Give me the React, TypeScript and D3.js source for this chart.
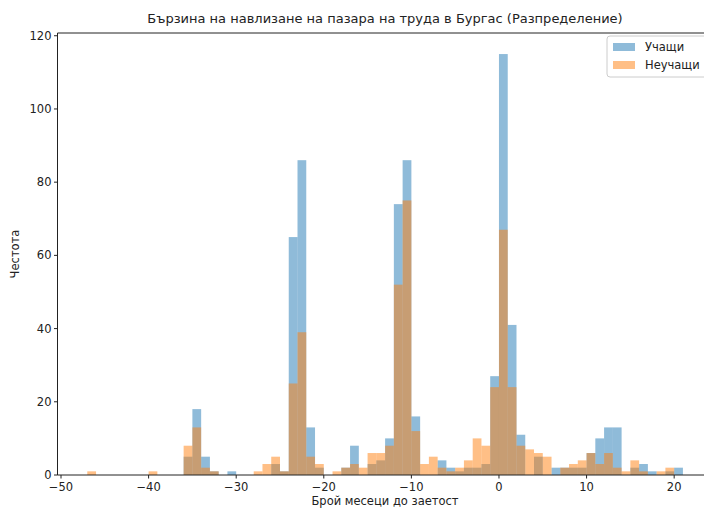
import React from "react";
import * as d3 from "d3";

const binStarts: number[] = [
  -47, -46, -45, -44, -43, -42, -41, -40, -39, -38,
  -37, -36, -35, -34, -33, -32, -31, -30, -29, -28,
  -27, -26, -25, -24, -23, -22, -21, -20, -19, -18,
  -17, -16, -15, -14, -13, -12, -11, -10, -9, -8,
  -7, -6, -5, -4, -3, -2, -1, 0, 1, 2,
  3, 4, 5, 6, 7, 8, 9, 10, 11, 12,
  13, 14, 15, 16, 17, 18, 19, 20,
];
const binWidth = 1;

const learners: number[] = [
  0, 0, 0, 0, 0, 0, 0, 0, 0, 0,
  0, 5, 18, 5, 1, 0, 1, 0, 0, 0,
  0, 3, 1, 65, 86, 13, 2, 0, 0, 2,
  8, 0, 3, 4, 10, 74, 86, 16, 0, 0,
  4, 2, 1, 2, 2, 3, 27, 115, 41, 11,
  0, 5, 0, 2, 2, 2, 2, 6, 10, 13,
  13, 0, 2, 3, 1, 0, 1, 2,
];
const nonLearners: number[] = [
  1, 0, 0, 0, 0, 0, 0, 1, 0, 0,
  0, 8, 13, 2, 1, 0, 0, 0, 0, 1,
  3, 5, 1, 25, 39, 5, 3, 0, 1, 2,
  3, 2, 6, 6, 8, 52, 75, 12, 3, 5,
  2, 1, 2, 4, 10, 8, 24, 67, 24, 8,
  7, 6, 5, 0, 2, 3, 4, 6, 3, 6,
  2, 1, 4, 1, 0, 1, 2, 0,
];

const seriesNames = ["Учащи", "Неучащи"];
const seriesColors = ["rgba(31,119,180,0.5)", "rgba(255,127,14,0.5)"];
const xTicks = [-50, -40, -30, -20, -10, 0, 10, 20];
const yTicks = [0, 20, 40, 60, 80, 100, 120];

const title = "Бързина на навлизане на пазара на труда в Бургас (Разпределение)";
const xLabel = "Брой месеци до заетост";
const yLabel = "Честота";

const W = 704;
const H = 509;
const FONT = "DejaVu Sans, sans-serif";

export default function App() {
  const x = d3.scaleLinear().domain([-50.4, 24.4]).range([57.5, 712.7]);
  const y = d3.scaleLinear().domain([0, 120.75]).range([475, 33]);
  const series = [learners, nonLearners];
  const axisColor = "#222";

  return (
    <svg
      width={W}
      height={H}
      style={{ position: "absolute", left: 0, top: 0, background: "#fff" }}
      fontFamily={FONT}
    >
      {series.map((vals, si) => (
        <g key={si}>
          {vals.map((v, i) =>
            v > 0 ? (
              <rect
                key={i}
                x={x(binStarts[i])}
                y={y(v)}
                width={x(binStarts[i] + binWidth) - x(binStarts[i])}
                height={y(0) - y(v)}
                fill={seriesColors[si]}
              />
            ) : null
          )}
        </g>
      ))}
      {/* spines */}
      <line x1={x.range()[0]} x2={x.range()[0]} y1={y(0)} y2={y.range()[1]} stroke={axisColor} strokeWidth={1} />
      <line x1={x.range()[0]} x2={W} y1={y(0)} y2={y(0)} stroke={axisColor} strokeWidth={1} />
      <line x1={x.range()[0]} x2={W} y1={y.range()[1]} y2={y.range()[1]} stroke={axisColor} strokeWidth={1} />
      {/* x ticks */}
      {xTicks.map((t) => (
        <g key={t} transform={`translate(${x(t)},${y(0)})`}>
          <line y1={0} y2={3.5} stroke={axisColor} />
          <text y={16} textAnchor="middle" fontSize={11.5} fill="#222">
            {t < 0 ? `\u2212${Math.abs(t)}` : t}
          </text>
        </g>
      ))}
      {/* y ticks */}
      {yTicks.map((t) => (
        <g key={t} transform={`translate(${x.range()[0]},${y(t)})`}>
          <line x1={0} x2={-3.5} stroke={axisColor} />
          <text x={-6} dy="0.35em" textAnchor="end" fontSize={11.5} fill="#222">
            {t}
          </text>
        </g>
      ))}
      <text x={385} y={23} textAnchor="middle" fontSize={13} fill="#222">
        {title}
      </text>
      <text x={385} y={505} textAnchor="middle" fontSize={11.5} fill="#222">
        {xLabel}
      </text>
      <text
        transform={`translate(19,${(y(0) + y.range()[1]) / 2}) rotate(-90)`}
        textAnchor="middle"
        fontSize={11.5}
        fill="#222"
      >
        {yLabel}
      </text>
      {/* legend */}
      <rect x={607} y={36} width={110} height={41} rx={3} fill="rgba(255,255,255,0.8)" stroke="#ccc" />
      {seriesNames.map((n, i) => (
        <g key={n} transform={`translate(613,${43 + i * 18})`}>
          <rect x={0} y={0} width={22} height={8} fill={seriesColors[i]} />
          <text x={32} y={8} fontSize={11.5} fill="#222">
            {n}
          </text>
        </g>
      ))}
    </svg>
  );
}
